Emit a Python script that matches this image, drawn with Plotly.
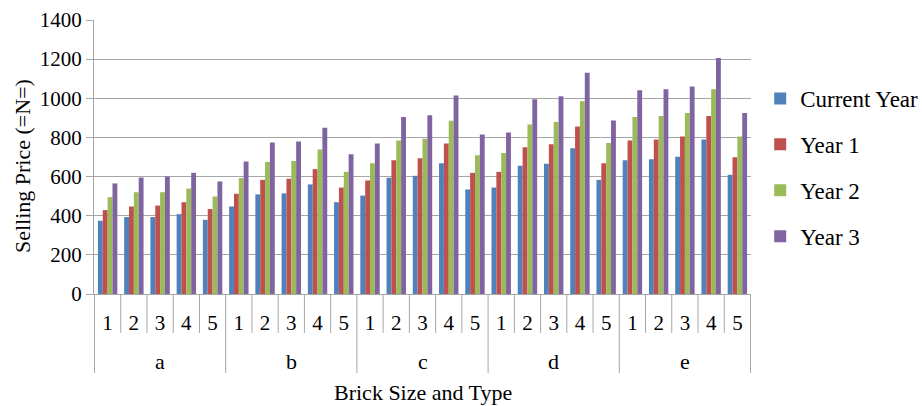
import plotly.graph_objects as go

groups = ["a", "b", "c", "d", "e"]
types = ["1", "2", "3", "4", "5"]

current_year = [374, 393, 393, 408, 379,
                447, 509, 514, 560, 469,
                503, 594, 604, 668, 534,
                544, 655, 665, 745, 583,
                684, 689, 701, 789, 609]
year_1 = [429, 447, 452, 469, 434,
          512, 583, 589, 638, 544,
          580, 684, 694, 769, 619,
          624, 750, 765, 856, 668,
          784, 789, 805, 910, 699]
year_2 = [495, 520, 520, 539, 498,
          592, 674, 679, 738, 624,
          668, 784, 793, 885, 709,
          720, 866, 879, 985, 771,
          905, 910, 925, 1046, 805]
year_3 = [565, 595, 600, 619, 575,
          677, 774, 779, 850, 714,
          769, 905, 913, 1014, 815,
          825, 995, 1010, 1131, 886,
          1041, 1046, 1060, 1206, 925]

series_names = ["Current Year", "Year 1", "Year 2", "Year 3"]
series_values = [current_year, year_1, year_2, year_3]
colors = ["#4F81BD", "#C0504D", "#9BBB59", "#8064A2"]

categories = [g + t for g in groups for t in types]
inner_labels = [t for _ in groups for t in types]

font_family = "Liberation Serif, Times New Roman, serif"
axis_gray = "#A6A6A6"

fig = go.Figure()
for i, (name, vals) in enumerate(zip(series_names, series_values)):
    fig.add_trace(go.Bar(
        x=categories, y=vals, name=name,
        marker=dict(color=colors[i], line=dict(width=0)),
        legendgroup=f"g{i}",
    ))

# category boundary lines (inner ticks and group dividers)
n = len(categories)
shapes = []
for b in range(n + 1):
    is_divider = (b % len(types) == 0)
    shapes.append(dict(
        type="line", xref="x", yref="paper",
        x0=b - 0.5, x1=b - 0.5, y0=0, y1=-0.288 if is_divider else -0.142,
        line=dict(color=axis_gray, width=1),
    ))

annotations = []
for gi, g in enumerate(groups):
    annotations.append(dict(
        x=categories[gi * len(types) + len(types) // 2], y=-0.248,
        xref="x", yref="paper", text=g, showarrow=False,
        yanchor="middle", xanchor="center",
        font=dict(family=font_family, size=22, color="black"),
    ))
annotations.append(dict(
    x=0.5, y=-0.361, xref="paper", yref="paper", text="Brick Size and Type",
    showarrow=False, yanchor="middle", xanchor="center",
    font=dict(family=font_family, size=22, color="black"),
))
annotations.append(dict(
    x=-0.1096, y=0.467, xref="paper", yref="paper", text="Selling Price (=N=)",
    showarrow=False, textangle=-90, yanchor="middle", xanchor="center",
    font=dict(family=font_family, size=22, color="black"),
))

fig.update_layout(
    width=922, height=406,
    margin=dict(l=94, r=171, t=20, b=112, autoexpand=False),
    barmode="group", bargap=0.26, bargroupgap=0,
    plot_bgcolor="white", paper_bgcolor="white",
    font=dict(family=font_family, size=21, color="black"),
    legend=dict(
        x=1.014, xanchor="left", y=0.792, yanchor="top",
        font=dict(family=font_family, size=23, color="black"),
        traceorder="grouped", tracegroupgap=13,
        itemwidth=30,
    ),
    showlegend=True,
    shapes=shapes,
    annotations=annotations,
)
fig.update_yaxes(
    range=[0, 1400], dtick=200,
    showgrid=True, gridcolor=axis_gray, gridwidth=1,
    showline=True, linecolor=axis_gray, linewidth=1,
    ticks="outside", ticklen=7, tickcolor=axis_gray,
    tickfont=dict(family=font_family, size=21),
    zeroline=False, automargin=False,
)
fig.update_xaxes(
    type="category",
    tickvals=categories, ticktext=inner_labels,
    showline=True, linecolor=axis_gray, linewidth=1,
    ticks="", showgrid=False,
    ticklabelstandoff=10,
    tickfont=dict(family=font_family, size=21),
    automargin=False,
)

fig.write_html(
    "out.html",
    config={"displayModeBar": False},
    post_script="document.body.style.margin='0';document.body.style.overflow='hidden';",
)
